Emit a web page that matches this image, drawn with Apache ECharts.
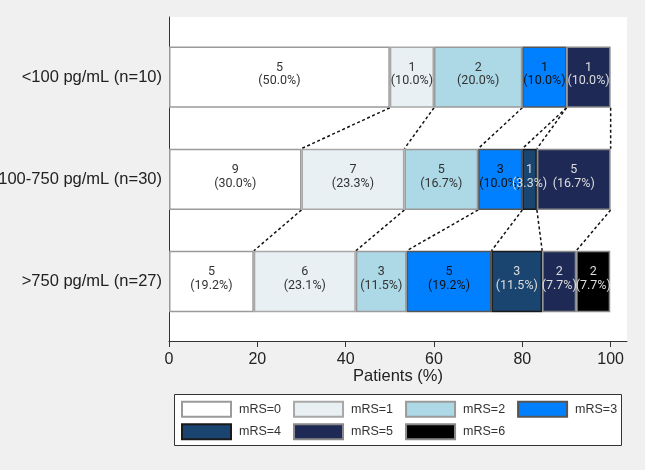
<!DOCTYPE html>
<html><head><meta charset="utf-8">
<script src="https://cdn.jsdelivr.net/npm/echarts@6/dist/echarts.min.js"></script>
<style>html,body{margin:0;padding:0;background:#f0f0f0;} #c{width:645px;height:470px;}</style>
</head><body><div id="c"></div>
<script>
const categories = ['<100 pg/mL (n=10)', '100-750 pg/mL (n=30)', '>750 pg/mL (n=27)'];
const mrsNames = ['mRS=0', 'mRS=1', 'mRS=2', 'mRS=3', 'mRS=4', 'mRS=5', 'mRS=6'];
const xTicks = [0, 20, 40, 60, 80, 100];

const mrs0Count = [5, 9, 5];  const mrs0Pct = [50.0, 30.0, 19.2];
const mrs1Count = [1, 7, 6];  const mrs1Pct = [10.0, 23.3, 23.1];
const mrs2Count = [2, 5, 3];  const mrs2Pct = [20.0, 16.7, 11.5];
const mrs3Count = [1, 3, 5];  const mrs3Pct = [10.0, 10.0, 19.2];
const mrs4Count = [0, 1, 3];  const mrs4Pct = [0, 3.3, 11.5];
const mrs5Count = [1, 5, 2];  const mrs5Pct = [10.0, 16.7, 7.7];
const mrs6Count = [0, 0, 2];  const mrs6Pct = [0, 0, 7.7];

const counts = [mrs0Count, mrs1Count, mrs2Count, mrs3Count, mrs4Count, mrs5Count, mrs6Count];
const pcts = [mrs0Pct, mrs1Pct, mrs2Pct, mrs3Pct, mrs4Pct, mrs5Pct, mrs6Pct];

const colors = ['#ffffff', '#e8f0f3', '#add8e6', '#0080ff', '#1a4570', '#1e2a55', '#000000'];
const borderColors = ['#9a9a9a', '#a8a8a8', '#9a9a9a', '#555555', '#1a1a1a', '#8a8a8a', '#8a8a8a'];
const labelColors = ['#333333', '#333333', '#333333', '#111111', '#dddddd', '#dddddd', '#dddddd'];

const barSeries = mrsNames.map((name, i) => ({
  type: 'bar', name: name, stack: 'total', xAxisIndex: 0, yAxisIndex: 0,
  barCategoryGap: '40%', z: 3,
  itemStyle: { color: colors[i], borderColor: borderColors[i], borderWidth: 1.5 },
  label: {
    show: true, position: 'inside', color: labelColors[i],
    fontFamily: 'Roboto', fontSize: 12.5, lineHeight: 13.5, offset: [0, -2.5],
    formatter: p => counts[i][p.dataIndex] + '\n(' + pcts[i][p.dataIndex].toFixed(1) + '%)'
  },
  data: pcts[i].map((v, j) => counts[i][j] === 0 ? '-' : v)
}));

const connectors = [];
for (let r = 0; r < categories.length - 1; r++) {
  let cu = 0, cl = 0;
  for (let k = 0; k < mrsNames.length - 1; k++) {
    cu += pcts[k][r]; cl += pcts[k][r + 1];
    connectors.push([cu, r, cl]);
  }
}

const axisColor = '#333';
const legendText = { fontSize: 12.5, color: '#333', fontFamily: 'Liberation Sans', padding: [0, 0, 0, 3] };
const chart = echarts.init(document.getElementById('c'), null, { renderer: 'canvas' });
chart.setOption({
  backgroundColor: '#f0f0f0',
  animation: false,
  grid: [
    { left: 169, right: 18, top: 26, bottom: 137.4, show: false, outerBoundsMode: 'none', containLabel: false },
    { left: 169, right: 18, top: 17, bottom: 129, show: true, backgroundColor: '#ffffff', borderWidth: 0, outerBoundsMode: 'none', containLabel: false }
  ],
  xAxis: [
    { gridIndex: 0, type: 'value', min: 0, max: 103.7, show: false },
    {
      gridIndex: 1, type: 'value', min: 0, max: 103.7,
      axisLine: { show: true, lineStyle: { color: axisColor, width: 1 } },
      axisTick: { show: true, length: 6, customValues: xTicks, lineStyle: { color: axisColor } },
      axisLabel: { customValues: xTicks, margin: 11, fontSize: 16, color: '#222', fontFamily: 'Liberation Sans' },
      splitLine: { show: false },
      name: 'Patients (%)', nameLocation: 'middle', nameGap: 27, nameMoveOverlap: false,
      nameTextStyle: { fontSize: 16.5, color: '#222', fontFamily: 'Liberation Sans' }
    }
  ],
  yAxis: [
    {
      gridIndex: 0, type: 'category', data: categories, inverse: true,
      axisLine: { show: false }, axisTick: { show: false }, splitLine: { show: false },
      axisLabel: { margin: 7, fontSize: 16.5, color: '#222', fontFamily: 'Liberation Sans' }
    },
    {
      gridIndex: 1, type: 'value',
      axisLine: { show: true, lineStyle: { color: axisColor, width: 1 } },
      axisTick: { show: false }, axisLabel: { show: false }, splitLine: { show: false }
    }
  ],
  legend: [
    {
      data: mrsNames.slice(0, 4), left: 181, top: 400.7, orient: 'horizontal', padding: 0,
      itemWidth: 49, itemHeight: 15, itemGap: 12, icon: 'rect', selectedMode: false,
      textStyle: legendText
    },
    {
      data: mrsNames.slice(4), left: 181, top: 423.3, orient: 'horizontal', padding: 0,
      itemWidth: 49, itemHeight: 15, itemGap: 12, icon: 'rect', selectedMode: false,
      textStyle: legendText
    }
  ],
  graphic: [
    { type: 'rect', z: 0, shape: { x: 174.5, y: 394.5, width: 447, height: 51 },
      style: { fill: '#ffffff', stroke: '#333', lineWidth: 1 } }
  ],
  series: barSeries.concat([{
    type: 'custom', xAxisIndex: 0, yAxisIndex: 0, z: 1, silent: true,
    encode: { x: [0, 2], y: 1 },
    data: connectors,
    renderItem: (params, api) => {
      const r = api.value(1);
      const p1 = api.coord([api.value(0), r]);
      const p2 = api.coord([api.value(2), r + 1]);
      const half = api.size([0, 1])[1] * 0.3;
      return {
        type: 'line',
        shape: { x1: p1[0], y1: p1[1] + half, x2: p2[0], y2: p2[1] - half },
        style: { stroke: '#111', lineWidth: 1.5, lineDash: [3, 2.5] }
      };
    }
  }])
});
</script></body></html>
